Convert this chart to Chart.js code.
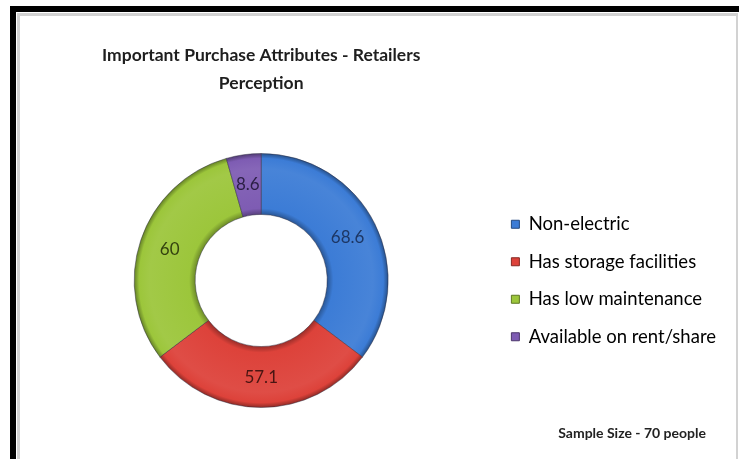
<!DOCTYPE html>
<html>
<head>
<meta charset="utf-8">
<title>Important Purchase Attributes - Retailers Perception</title>
<script src="https://cdn.jsdelivr.net/npm/chart.js@4.4.1/dist/chart.umd.min.js"></script>
<style>
  html, body { margin: 0; padding: 0; background: #fff; overflow: hidden; }
  #frame {
    position: absolute; left: 10px; top: 6px; width: 760px; height: 480px;
    border-left: 6px solid #000; border-top: 6px solid #000;
  }
  #panel {
    position: absolute; left: 1px; top: 1px; width: 716px; height: 470px;
    border: 3px solid #d2d2d2; border-right-width: 2px; background: #fff;
  }
</style>
</head>
<body>
<div id="frame">
  <div id="panel">
    <canvas id="attrChart" width="716" height="443"></canvas>
  </div>
</div>
<script>
// share of retailers (%) naming each attribute
const attributes = ["Non-electric", "Has storage facilities", "Has low maintenance", "Available on rent/share"];
const shares = [68.6, 57.1, 60, 8.6];
const segmentColors = ["#3c7cd6", "#dd423a", "#9cc63b", "#7e5cb3"];
const valueColors = ["#1d3765", "#4a1512", "#33420f", "#2b1f45"];
const titleLines = ["Important Purchase Attributes - Retailers", "Perception"];
const sampleNote = "Sample Size - 70 people";

const FONT = "Lato, 'Open Sans', sans-serif";

function shade(hex, amt) {
  const n = parseInt(hex.slice(1), 16);
  const ch = [(n >> 16) & 255, (n >> 8) & 255, n & 255].map(v =>
    Math.round(amt < 0 ? v * (1 + amt) : v + (255 - v) * amt));
  return `rgb(${ch[0]},${ch[1]},${ch[2]})`;
}

// soft bevel: darker rims on the inside and outside of the ring
function ringFill(c) {
  const chart = c.chart;
  const base = segmentColors[c.dataIndex];
  const ctrl = chart.getDatasetMeta(0).controller;
  const area = chart.chartArea;
  if (!area || !ctrl || !ctrl.outerRadius) return base;
  const cx = (area.left + area.right) / 2;
  const cy = (area.top + area.bottom) / 2;
  const g = chart.ctx.createRadialGradient(cx, cy, ctrl.innerRadius, cx, cy, ctrl.outerRadius);
  g.addColorStop(0, shade(base, -0.3));
  g.addColorStop(0.1, base);
  g.addColorStop(0.75, shade(base, 0.06));
  g.addColorStop(0.92, base);
  g.addColorStop(1, shade(base, -0.35));
  return g;
}

// value printed in the middle of each slice
const sliceValues = {
  id: "sliceValues",
  afterDatasetsDraw(chart) {
    const ctx = chart.ctx;
    ctx.save();
    ctx.font = "17px " + FONT;
    ctx.textAlign = "center";
    ctx.textBaseline = "middle";
    chart.getDatasetMeta(0).data.forEach((arc, i) => {
      const p = arc.tooltipPosition();
      ctx.fillStyle = valueColors[i];
      ctx.fillText(String(shares[i]), p.x, p.y);
    });
    ctx.restore();
  }
};

// sample size note in the lower right corner
const footNote = {
  id: "footNote",
  afterDraw(chart) {
    const ctx = chart.ctx;
    ctx.save();
    ctx.font = "bold 14px " + FONT;
    ctx.fillStyle = "#222";
    ctx.textAlign = "right";
    ctx.textBaseline = "middle";
    ctx.fillText(sampleNote, chart.width - 30, chart.height - 26);
    ctx.restore();
  }
};

new Chart(document.getElementById("attrChart"), {
  type: "doughnut",
  data: {
    labels: attributes,
    datasets: [{
      data: shares,
      backgroundColor: ringFill,
      borderColor: "rgba(40,40,60,0.45)",
      borderWidth: 1,
      hoverOffset: 0
    }]
  },
  options: {
    responsive: false,
    animation: false,
    cutout: "52%",
    layout: { padding: { left: 10, right: 10, bottom: 51 } },
    plugins: {
      title: {
        display: true,
        fullSize: false,
        text: titleLines,
        color: "#1e1e1e",
        font: { family: FONT, size: 17.5, weight: "bold", lineHeight: 1.6 },
        padding: { top: 25, bottom: 56 }
      },
      legend: {
        position: "right",
        fullSize: false,
        labels: {
          boxWidth: 8,
          boxHeight: 8,
          padding: 19,
          color: "#333",
          font: { family: FONT, size: 18.5 },
          generateLabels: (chart) => attributes.map((name, i) => ({
            text: name,
            fillStyle: segmentColors[i],
            strokeStyle: shade(segmentColors[i], -0.4),
            lineWidth: 1,
            index: i,
            hidden: false
          }))
        }
      },
      tooltip: { enabled: false }
    }
  },
  plugins: [sliceValues, footNote]
});
</script>
</body>
</html>
